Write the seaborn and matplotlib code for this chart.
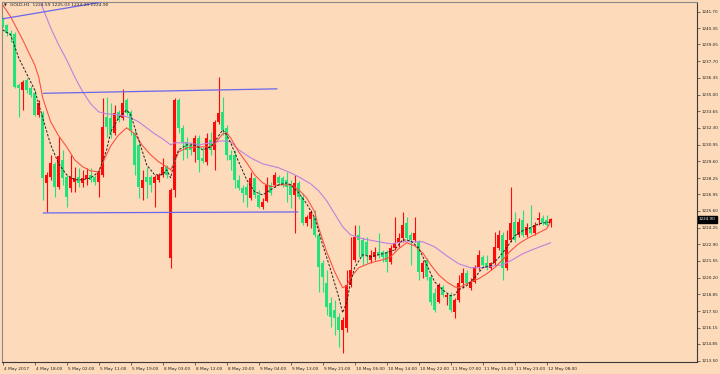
import matplotlib
matplotlib.use("Agg")
import matplotlib.pyplot as plt
import matplotlib.transforms as mtransforms
import numpy as np
import pandas as pd
import seaborn as sns

# ---------------- data (GOLD, H1) ----------------
opens = [1241.12, 1240.63, 1239.98, 1239.90, 1235.78, 1235.38, 1236.19, 1235.54, 1235.14, 1233.36,
         1233.52, 1227.86, 1228.35, 1229.40, 1227.54, 1229.72, 1228.35, 1227.46, 1227.94, 1228.35,
         1227.86, 1228.19, 1228.51, 1228.35, 1227.94, 1228.51, 1233.20, 1233.12, 1231.90, 1233.60,
         1233.12, 1234.57, 1233.60, 1231.90, 1230.93, 1227.46, 1228.35, 1228.35, 1227.86, 1228.11,
         1228.51, 1229.16, 1221.80, 1227.30, 1234.57, 1232.31, 1231.18, 1230.93, 1230.37, 1231.50,
         1229.88, 1229.56, 1231.34, 1230.53, 1232.79, 1233.60, 1232.31, 1230.13, 1230.13, 1228.11,
         1227.46, 1227.54, 1226.65, 1228.27, 1226.89, 1225.92, 1226.41, 1227.70, 1227.70, 1228.35,
         1228.27, 1228.11, 1227.70, 1226.89, 1227.86, 1226.73, 1224.63, 1224.95, 1225.12, 1223.66,
         1221.40, 1219.78, 1218.17, 1217.60, 1217.04, 1215.99, 1216.15, 1219.62, 1221.64, 1223.66,
         1223.26, 1223.10, 1221.64, 1221.88, 1222.29, 1222.29, 1222.29, 1221.48, 1222.61, 1223.02,
         1223.42, 1224.63, 1223.66, 1223.26, 1223.10, 1220.67, 1221.64, 1220.27, 1218.98, 1218.25,
         1219.46, 1218.65, 1218.81, 1217.44, 1218.41, 1219.78, 1220.59, 1219.38, 1219.86, 1221.08,
         1221.88, 1221.40, 1221.00, 1221.40, 1222.61, 1223.66, 1221.00, 1223.26, 1224.71, 1223.66,
         1224.87, 1223.66, 1224.31, 1223.82, 1224.87, 1225.04, 1224.87, 1224.59]
highs = [1241.28, 1240.71, 1240.23, 1240.06, 1235.94, 1236.19, 1236.35, 1235.70, 1235.38, 1234.57,
         1233.68, 1228.75, 1230.13, 1229.56, 1231.58, 1230.53, 1228.51, 1230.13, 1229.16, 1229.08,
         1228.91, 1229.08, 1229.08, 1228.51, 1228.91, 1234.73, 1234.81, 1234.33, 1234.17, 1233.76,
         1235.46, 1234.73, 1233.76, 1232.15, 1231.18, 1228.91, 1229.16, 1228.51, 1228.51, 1228.67,
         1229.88, 1229.32, 1227.46, 1234.73, 1234.73, 1232.55, 1231.58, 1231.18, 1231.74, 1231.74,
         1230.77, 1231.90, 1231.98, 1232.95, 1236.43, 1234.81, 1232.55, 1230.53, 1230.53, 1228.51,
         1227.70, 1227.86, 1228.75, 1228.35, 1227.30, 1226.65, 1228.35, 1227.94, 1228.75, 1228.51,
         1228.43, 1228.75, 1228.11, 1228.51, 1228.03, 1227.06, 1225.28, 1225.68, 1225.68, 1223.82,
         1221.64, 1220.83, 1218.65, 1218.41, 1217.36, 1217.04, 1220.83, 1223.50, 1224.47, 1224.47,
         1223.50, 1223.50, 1222.45, 1222.69, 1223.82, 1222.45, 1222.45, 1222.85, 1225.12, 1223.82,
         1225.52, 1225.12, 1223.90, 1225.12, 1223.26, 1221.64, 1221.80, 1220.43, 1219.38, 1219.78,
         1219.62, 1218.98, 1219.06, 1218.57, 1220.43, 1221.00, 1220.83, 1220.19, 1221.24, 1222.45,
         1222.05, 1222.05, 1221.48, 1223.90, 1224.07, 1223.90, 1224.07, 1227.54, 1225.52, 1225.04,
         1225.68, 1224.63, 1226.09, 1224.71, 1225.52, 1225.28, 1225.28, 1225.03]
lows = [1240.47, 1239.74, 1239.26, 1235.54, 1233.20, 1233.76, 1235.14, 1234.81, 1233.28, 1233.20,
        1226.49, 1225.52, 1228.11, 1226.73, 1227.38, 1227.70, 1225.92, 1227.14, 1227.14, 1227.54,
        1227.54, 1227.70, 1227.94, 1227.70, 1226.73, 1228.35, 1231.58, 1231.50, 1231.74, 1232.79,
        1232.95, 1233.36, 1231.74, 1228.51, 1226.65, 1226.49, 1226.65, 1227.14, 1225.92, 1227.94,
        1228.35, 1228.27, 1221.00, 1226.73, 1231.90, 1229.72, 1229.88, 1230.13, 1229.56, 1228.75,
        1229.48, 1229.32, 1230.13, 1228.91, 1232.63, 1231.74, 1229.72, 1228.91, 1227.46, 1227.30,
        1226.33, 1225.92, 1226.49, 1226.65, 1225.84, 1225.76, 1226.33, 1226.89, 1227.54, 1227.70,
        1227.54, 1226.33, 1225.84, 1223.82, 1226.57, 1224.47, 1224.39, 1224.23, 1223.50, 1219.06,
        1219.06, 1217.20, 1216.23, 1215.58, 1214.61, 1214.13, 1215.82, 1219.46, 1221.48, 1221.88,
        1221.24, 1221.40, 1221.40, 1221.64, 1221.80, 1221.48, 1220.67, 1221.32, 1222.45, 1222.69,
        1223.10, 1223.26, 1221.24, 1223.10, 1220.03, 1220.19, 1220.03, 1218.01, 1217.44, 1218.17,
        1218.65, 1218.01, 1217.44, 1216.96, 1218.25, 1219.38, 1219.62, 1219.22, 1219.78, 1220.83,
        1221.08, 1220.83, 1220.83, 1221.24, 1222.45, 1220.03, 1220.83, 1223.10, 1223.10, 1223.50,
        1223.50, 1223.50, 1223.74, 1223.66, 1224.47, 1224.47, 1224.31, 1224.29]
closes = [1240.63, 1239.98, 1239.82, 1235.62, 1235.54, 1236.02, 1235.38, 1234.97, 1233.36, 1234.33,
          1228.27, 1228.51, 1229.48, 1227.54, 1230.05, 1228.27, 1226.73, 1228.35, 1228.27, 1227.86,
          1228.27, 1228.51, 1228.11, 1227.94, 1228.67, 1232.39, 1232.39, 1231.90, 1233.52, 1232.95,
          1234.33, 1233.52, 1232.15, 1229.32, 1227.54, 1228.11, 1227.94, 1227.70, 1228.35, 1228.51,
          1229.16, 1228.51, 1227.30, 1234.57, 1232.31, 1231.18, 1230.53, 1230.53, 1231.50, 1229.72,
          1229.64, 1231.50, 1230.53, 1232.79, 1233.52, 1232.15, 1230.13, 1229.72, 1228.11, 1227.46,
          1227.06, 1226.89, 1228.27, 1226.89, 1225.92, 1226.33, 1227.70, 1227.06, 1228.51, 1227.86,
          1227.70, 1227.54, 1226.89, 1227.86, 1226.73, 1224.63, 1225.12, 1225.52, 1223.66, 1221.08,
          1220.27, 1217.84, 1217.04, 1216.96, 1215.99, 1216.79, 1219.62, 1220.83, 1223.50, 1223.26,
          1221.88, 1222.05, 1222.05, 1222.29, 1222.05, 1221.88, 1221.48, 1222.61, 1223.02, 1223.42,
          1224.47, 1223.42, 1223.26, 1223.82, 1220.67, 1221.40, 1220.27, 1218.25, 1217.60, 1219.62,
          1218.81, 1218.81, 1217.60, 1218.41, 1219.78, 1220.59, 1219.78, 1219.86, 1221.08, 1222.05,
          1221.24, 1221.00, 1221.40, 1222.69, 1223.66, 1221.00, 1223.26, 1224.63, 1223.26, 1224.71,
          1223.66, 1224.31, 1223.82, 1224.47, 1225.04, 1224.63, 1224.47, 1224.90]

# moving-average lines (bar index, price)
ma_fast_bar = [0, 2, 4, 6, 8, 10, 12, 14, 16, 18, 20, 22, 24, 26, 27, 29, 31, 32, 34, 36, 38, 40, 41, 42,
               43, 44, 46, 48, 50, 52, 53, 55, 56, 57, 59, 61, 63, 65, 67, 69, 71, 72, 74, 76, 78, 80,
               82, 84, 85, 86, 87, 88, 90, 92, 94, 96, 98, 100, 102, 104, 106, 108, 110, 112, 113, 114,
               116, 118, 120, 122, 124, 126, 128, 130, 132, 134, 137]
ma_fast = [1240.23, 1239.82, 1237.96, 1236.67, 1235.38, 1233.12, 1230.93, 1229.40, 1228.51, 1228.11,
           1228.11, 1228.27, 1228.75, 1230.53, 1231.98, 1233.12, 1233.76, 1233.36, 1231.34, 1229.32,
           1228.51, 1228.51, 1228.91, 1228.27, 1229.72, 1230.53, 1230.93, 1230.93, 1230.53, 1230.77,
           1231.18, 1232.15, 1231.74, 1231.10, 1229.56, 1228.11, 1227.14, 1226.89, 1227.30, 1227.70,
           1227.86, 1227.70, 1227.06, 1226.17, 1225.04, 1222.85, 1220.83, 1218.65, 1217.36, 1218.17,
           1219.86, 1221.00, 1222.05, 1221.88, 1222.05, 1222.21, 1222.45, 1223.26, 1223.18, 1222.61,
           1221.24, 1219.86, 1219.22, 1218.73, 1218.81, 1219.22, 1219.54, 1220.19, 1221.00, 1221.16,
           1221.80, 1222.61, 1223.58, 1223.99, 1224.23, 1224.55, 1224.71]

ma_mid_bar = [0, 2, 5, 8, 9, 10, 12, 14, 16, 18, 20, 22, 24, 25, 27, 29, 31, 33, 35, 37, 39, 41, 42, 43,
              44, 46, 49, 52, 53, 55, 56, 57, 59, 61, 63, 65, 67, 69, 72, 74, 76, 78, 79, 81, 83, 85,
              86, 87, 89, 92, 95, 97, 99, 101, 103, 105, 107, 109, 111, 113, 114, 115, 117, 119, 121,
              123, 125, 127, 129, 131, 133, 135, 136, 137]
ma_mid = [1242.25, 1241.28, 1239.42, 1237.40, 1236.43, 1234.73, 1232.79, 1231.66, 1230.77, 1229.72,
          1229.16, 1228.83, 1228.75, 1229.48, 1230.85, 1231.74, 1232.31, 1231.82, 1230.85, 1230.13,
          1229.56, 1229.16, 1228.91, 1229.56, 1230.37, 1230.69, 1230.77, 1230.77, 1231.01, 1231.82,
          1231.90, 1231.50, 1230.37, 1229.48, 1228.51, 1227.86, 1227.54, 1227.70, 1227.70, 1227.30,
          1226.65, 1225.52, 1224.23, 1222.29, 1220.67, 1219.38, 1219.54, 1220.19, 1221.00, 1221.40,
          1221.64, 1221.88, 1222.53, 1223.02, 1222.77, 1222.21, 1221.24, 1220.43, 1219.86, 1219.46,
          1219.38, 1219.54, 1219.86, 1220.11, 1220.51, 1221.00, 1221.64, 1222.37, 1222.93, 1223.34,
          1223.66, 1223.99, 1224.15, 1224.71]

ma_slow_bar = [9, 10, 12, 14, 16, 18, 20, 22, 24, 26, 29, 32, 34, 36, 38, 40, 42, 43, 46, 49, 52, 55,
               57, 59, 62, 65, 69, 72, 74, 77, 79, 81, 83, 85, 87, 90, 94, 97, 100, 103, 105, 108, 111,
               114, 117, 120, 123, 125, 127, 130, 133, 137]
ma_slow = [1242.89, 1242.00, 1240.39, 1239.01, 1237.80, 1236.43, 1235.22, 1234.25, 1233.60, 1233.44,
           1233.36, 1233.12, 1232.79, 1232.31, 1231.82, 1231.42, 1230.93, 1231.10, 1231.10, 1230.93,
           1231.10, 1231.26, 1231.18, 1230.53, 1229.88, 1229.40, 1229.08, 1228.67, 1228.35, 1227.78,
           1227.22, 1226.41, 1225.36, 1224.31, 1223.66, 1223.34, 1223.10, 1222.93, 1223.10, 1223.10,
           1223.10, 1222.69, 1221.97, 1221.32, 1221.00, 1221.00, 1221.16, 1221.24, 1221.56, 1222.13,
           1222.53, 1223.02]

# trend lines (bar index, price)
trend_top_bar = [0, 24.3]
trend_top = [1241.12, 1242.45]
resist_bar = [10.1, 68.6]
resist = [1235.10, 1235.46]
support_bar = [10.1, 73.8]
support = [1225.43, 1225.51]

date_label_bars = [0, 8, 16, 24, 32, 40, 48, 56, 64, 72, 80, 88, 96, 104, 112, 120, 128, 136]
date_labels = ["4 May 2017", "4 May 18:00", "5 May 02:00", "5 May 11:00", "5 May 19:00",
               "8 May 03:00", "8 May 12:00", "8 May 20:00", "9 May 04:00", "9 May 13:00",
               "9 May 21:00", "10 May 06:00", "10 May 14:00", "10 May 22:00", "11 May 07:00",
               "11 May 15:00", "11 May 23:00", "12 May 08:00"]
price_ticks = [1241.70, 1240.35, 1239.05, 1237.70, 1236.35, 1235.00, 1233.65, 1232.30, 1230.95,
               1229.60, 1228.25, 1226.95, 1225.60, 1224.25, 1222.90, 1221.55, 1220.20, 1218.85,
               1217.50, 1216.15, 1214.85, 1213.50]
header = "GOLD,H1  1224.59 1225.03 1224.29 1224.90"
last_price = 1224.90

# ---------------- style ----------------
BG = "#FDDAB9"
UP = "#FF0A0A"
DOWN = "#22E27C"
sns.set_theme(style="white")
plt.rcParams["font.family"] = ["DejaVu Sans"]

fig = plt.figure(figsize=(7.2, 3.74), dpi=100, facecolor=BG)
W, H = 720, 374
ax = fig.add_axes([2 / W, 12 / H, 695 / W, 360 / H])
ax.set_facecolor(BG)

df = pd.DataFrame({"bar": np.arange(len(opens)), "open": opens, "high": highs,
                   "low": lows, "close": closes})
df["up"] = df["close"] >= df["open"]
df["color"] = np.where(df["up"], UP, DOWN)

# wicks
ax.vlines(df["bar"], df["low"], df["high"], colors=df["color"], linewidth=0.8, zorder=2)
# bodies
body_lo = np.minimum(df["open"], df["close"])
body_h = np.maximum(np.abs(df["close"] - df["open"]), 0.08)
ax.bar(df["bar"], body_h, bottom=body_lo, width=0.72, color=df["color"], linewidth=0, zorder=3)

# moving averages
sns.lineplot(x=ma_slow_bar, y=ma_slow, ax=ax, color="#C27FE0", linewidth=0.8, zorder=4)
sns.lineplot(x=ma_mid_bar, y=ma_mid, ax=ax, color="#FF4A3A", linewidth=0.75, zorder=5)
sns.lineplot(x=ma_fast_bar, y=ma_fast, ax=ax, color="#262020", linewidth=0.7,
             linestyle=(0, (2.5, 1.6)), zorder=6)

# trend lines
for xs, ys in [(trend_top_bar, trend_top), (resist_bar, resist), (support_bar, support)]:
    sns.lineplot(x=xs, y=ys, ax=ax, color="#6A66EE", linewidth=0.9, zorder=7)

ax.set_xlim(-0.175, 173.6)
ax.set_ylim(1213.38, 1242.48)

# axes frame
for side in ["left", "top"]:
    ax.spines[side].set_color("#8a8a8a")
    ax.spines[side].set_linewidth(0.8)
for side in ["right", "bottom"]:
    ax.spines[side].set_color("#3a3a3a")
    ax.spines[side].set_linewidth(0.8)

# x ticks (date labels, left aligned to the tick)
ax.set_xticks(date_label_bars)
ax.set_xticklabels(date_labels, fontsize=3.1, ha="left", color="#222222")
ax.tick_params(axis="x", direction="out", length=2.5, width=0.5, pad=0.8, color="#3a3a3a",
               bottom=True)
offset = mtransforms.ScaledTranslation(1.2 / 100, 0, fig.dpi_scale_trans)
for lab in ax.get_xticklabels():
    lab.set_transform(lab.get_transform() + offset)

# y ticks on right
ax.yaxis.tick_right()
ax.set_yticks(price_ticks)
ax.set_yticklabels([f"{p:.2f}" for p in price_ticks], fontsize=3.0, color="#222222")
ax.tick_params(axis="y", direction="out", length=2, width=0.5, pad=1.2, color="#3a3a3a",
               right=True, left=False)
ax.grid(False)
ax.set_xlabel("")
ax.set_ylabel("")
if ax.get_legend():
    ax.get_legend().remove()

# current price box
trans = mtransforms.blended_transform_factory(ax.transAxes, ax.transData)
ax.text(1.0025, last_price, f"{last_price:.2f}", transform=trans, fontsize=3.0, color="white",
        va="center", ha="left", zorder=10,
        bbox=dict(boxstyle="square,pad=0.25", facecolor="black", edgecolor="black"))

# header
fig.text(4 / W, 1 - 5.5 / H, "\u25BC", fontsize=2.6, color="#222222", va="center", ha="left")
fig.text(10 / W, 1 - 5.5 / H, header, fontsize=3.2, color="#222222", va="center", ha="left")

fig.savefig("out.png", dpi=100, facecolor=BG)
